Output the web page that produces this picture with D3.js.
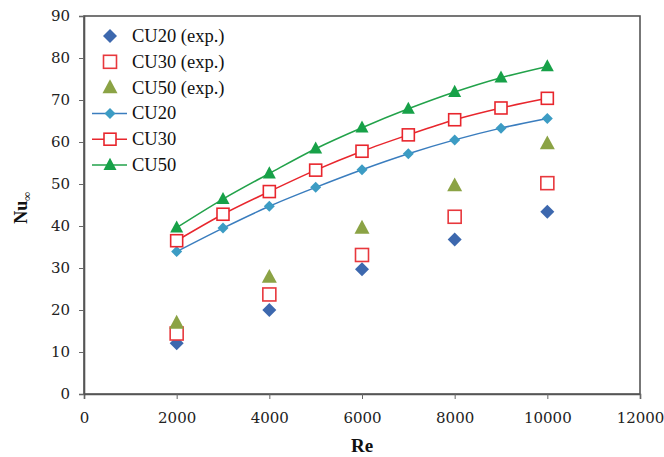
<!DOCTYPE html>
<html><head><meta charset="utf-8">
<script src="https://cdn.jsdelivr.net/npm/d3@7"></script>
<style>body{margin:0;background:#fff}svg{display:block}</style>
</head><body>
<script>
const reExp = [2000, 4000, 6000, 8000, 10000];
const cu20Exp = [12.1, 20.0, 29.7, 36.8, 43.4];
const cu30Exp = [14.4, 23.7, 33.1, 42.2, 50.2];
const cu50Exp = [16.9, 27.8, 39.5, 49.6, 59.6];
const reModel = [2000, 3000, 4000, 5000, 6000, 7000, 8000, 9000, 10000];
const cu20Model = [33.9, 39.5, 44.7, 49.2, 53.4, 57.2, 60.5, 63.3, 65.6];
const cu30Model = [36.5, 42.8, 48.2, 53.3, 57.8, 61.7, 65.3, 68.1, 70.4];
const cu50Model = [39.6, 46.4, 52.5, 58.4, 63.4, 67.9, 71.9, 75.3, 78.0];
const xTicks = [0, 2000, 4000, 6000, 8000, 10000, 12000];
const yTicks = [0, 10, 20, 30, 40, 50, 60, 70, 80, 90];
const legendLabels = ["CU20 (exp.)", "CU30 (exp.)", "CU50 (exp.)", "CU20", "CU30", "CU50"];

const W = 664, H = 457;
const m = {left: 84, right: 24, top: 16, bottom: 63};
const svg = d3.select("body").append("svg").attr("width", W).attr("height", H);
const x = d3.scaleLinear().domain([0, 12000]).range([m.left, W - m.right]);
const y = d3.scaleLinear().domain([0, 90]).range([H - m.bottom, m.top]);

const axisColor = "#666";
const tickFont = "'DejaVu Serif', serif";
const serif = "'Liberation Serif', 'Times New Roman', serif";

// frame
svg.append("rect").attr("x", x(0)).attr("y", y(90)).attr("width", x(12000) - x(0)).attr("height", y(0) - y(90))
  .attr("fill", "none").attr("stroke", "#555").attr("stroke-width", 1.6);

const gx = svg.append("g").attr("transform", `translate(0,${y(0)})`)
  .call(d3.axisBottom(x).tickValues(xTicks).tickSize(5).tickPadding(13).tickFormat(d3.format("d")));
const gy = svg.append("g").attr("transform", `translate(${x(0)},0)`)
  .call(d3.axisLeft(y).tickValues(yTicks).tickSize(5).tickPadding(9).tickFormat(d3.format("d")));
[gx, gy].forEach(g => {
  g.select(".domain").attr("stroke", "#555").attr("stroke-width", 1.6);
  g.selectAll(".tick line").attr("stroke", axisColor).attr("stroke-width", 1);
  g.selectAll(".tick text").attr("font-family", tickFont).attr("font-size", 15).attr("fill", "#222");
});

// axis titles
svg.append("text").attr("x", (x(0) + x(12000)) / 2).attr("y", 452).attr("text-anchor", "middle")
  .attr("font-family", serif).attr("font-weight", "bold").attr("font-size", 19).attr("fill", "#111").text("Re");
const yl = svg.append("text").attr("transform", `translate(27,${208}) rotate(-90)`).attr("text-anchor", "middle")
  .attr("font-family", serif).attr("font-weight", "bold").attr("font-size", 18).attr("fill", "#111");
yl.append("tspan").text("Nu");
yl.append("tspan").attr("font-size", 12).attr("dy", 4).text("∞");

function drawMarker(g, type, cx, cy, color, size) {
  const s = size;
  if (type === "diamond") {
    g.append("path").attr("d", `M${cx},${cy - s}L${cx + s},${cy}L${cx},${cy + s}L${cx - s},${cy}Z`).attr("fill", color);
  } else if (type === "square") {
    g.append("rect").attr("x", cx - s).attr("y", cy - s).attr("width", 2 * s).attr("height", 2 * s)
      .attr("fill", "#fff").attr("stroke", color).attr("stroke-width", 1.6);
  } else if (type === "triangle") {
    g.append("path").attr("d", `M${cx},${cy - s * 1.1}L${cx + s},${cy + s * 0.75}L${cx - s},${cy + s * 0.75}Z`).attr("fill", color);
  }
}

const series = [
  {name: legendLabels[0], xs: reExp, ys: cu20Exp, line: null, marker: "diamond", mColor: "#3D68AE", size: 7},
  {name: legendLabels[1], xs: reExp, ys: cu30Exp, line: null, marker: "square", mColor: "#E8383D", size: 6.5},
  {name: legendLabels[2], xs: reExp, ys: cu50Exp, line: null, marker: "triangle", mColor: "#8BA345", size: 7.5},
  {name: legendLabels[3], xs: reModel, ys: cu20Model, line: "#3A7DBE", marker: "diamond", mColor: "#3C9CC4", size: 5.5},
  {name: legendLabels[4], xs: reModel, ys: cu30Model, line: "#E8262D", marker: "square", mColor: "#E8262D", size: 6},
  {name: legendLabels[5], xs: reModel, ys: cu50Model, line: "#22A24A", marker: "triangle", mColor: "#17A148", size: 6.5}
];

const plot = svg.append("g");
series.forEach(s => {
  const pts = s.xs.map((v, i) => [x(v), y(s.ys[i])]);
  if (s.line) {
    plot.append("path").attr("d", d3.line().curve(d3.curveMonotoneX)(pts)).attr("fill", "none")
      .attr("stroke", s.line).attr("stroke-width", 1.5);
  }
});
series.forEach(s => {
  s.xs.forEach((v, i) => drawMarker(plot, s.marker, x(v), y(s.ys[i]), s.mColor, s.size));
});

// legend
const lg = svg.append("g");
const ly0 = 36, ldy = 25.8;
series.forEach((s, i) => {
  const cy = ly0 + i * ldy;
  if (s.line) lg.append("line").attr("x1", 92).attr("x2", 127).attr("y1", cy).attr("y2", cy)
    .attr("stroke", s.line).attr("stroke-width", 1.5);
  drawMarker(lg, s.marker, 110, cy, s.mColor, s.size);
  lg.append("text").attr("x", 132).attr("y", cy + 6).attr("font-family", serif).attr("font-size", 18.5)
    .attr("fill", "#111").text(s.name);
});
</script>
</body></html>
